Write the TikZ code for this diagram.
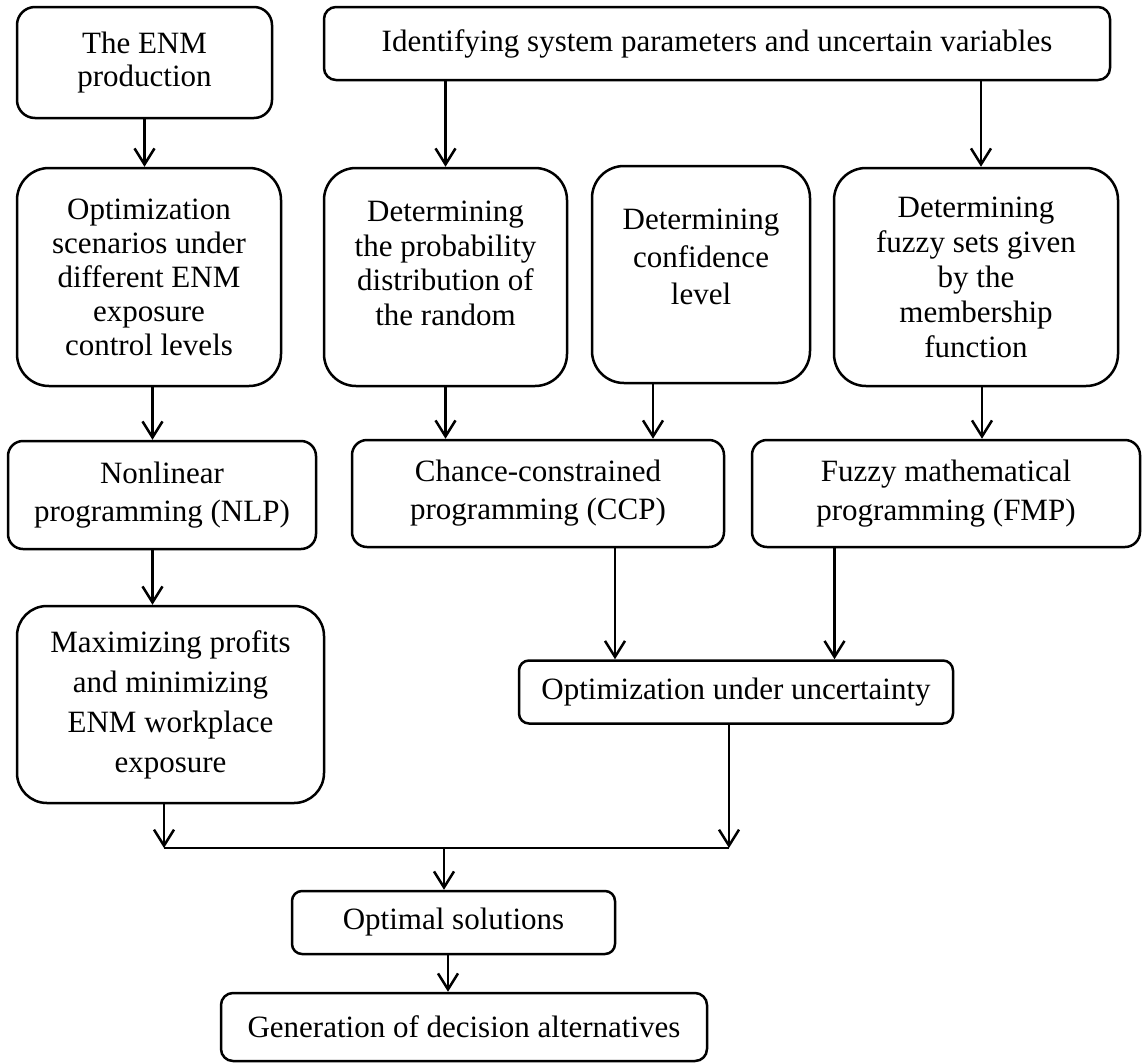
\documentclass[tikz,border=0pt]{standalone}
\usepackage{fontspec}
\setmainfont{Liberation Serif}
\usetikzlibrary{arrows.meta}
\begin{document}
\begin{tikzpicture}[x=1pt,y=-1pt,
  box/.style={draw=black, line width=2.5pt, align=center, inner sep=0pt, text=black, font=\fontsize{31}{36}\selectfont},
  ls/.style={font=\fontsize{31}{#1}\selectfont},
  arr/.style={draw=black, line width=2.5pt, -{Straight Barb[length=16pt,width=20pt]}},
  ln/.style={draw=black, line width=2.5pt},
]
\useasboundingbox (0,0) rectangle (1143,1063);

\node[box, ls=33, rounded corners=18pt, minimum width=255pt, minimum height=111pt] (enm) at (144.5,62.5) {The ENM\\production};
\node[box, rounded corners=12pt, minimum width=786pt, minimum height=73pt] (ident) at (717,43.5) {Identifying system parameters and uncertain variables};

\node[box, ls=34, rounded corners=32pt, minimum width=264pt, minimum height=218pt] (optsc) at (149,277) {Optimization\\scenarios under\\different ENM\\exposure\\control levels};
\node[box, ls=34.5, rounded corners=32pt, minimum width=243pt, minimum height=218pt] (prob) at (445.5,277) {Determining\\the probability\\distribution of\\the random\rule[-28pt]{0pt}{28pt}};
\node[box, ls=37.5, rounded corners=32pt, minimum width=218pt, minimum height=217pt] (conf) at (701,274.5) {Determining\\confidence\\level\rule[-35pt]{0pt}{35pt}};
\node[box, ls=35, rounded corners=32pt, minimum width=284pt, minimum height=218pt] (fuzzy) at (976,277) {Determining\\fuzzy sets given\\by the\\membership\\function};

\node[box, ls=38, rounded corners=15pt, minimum width=308pt, minimum height=108pt] (nlp) at (162,495) {Nonlinear\\programming (NLP)};
\node[box, ls=38, rounded corners=15pt, minimum width=372pt, minimum height=107pt] (ccp) at (538,493.5) {Chance-constrained\\programming (CCP)};
\node[box, ls=39, rounded corners=15pt, minimum width=388pt, minimum height=107pt] (fmp) at (946,493.5) {Fuzzy mathematical\\programming (FMP)};

\node[box, ls=40, rounded corners=30pt, minimum width=307pt, minimum height=197pt] (max) at (170.5,704.5) {Maximizing profits\\and minimizing\\ENM workplace\\exposure};
\node[box, rounded corners=10pt, minimum width=434pt, minimum height=63pt] (ou) at (736,692) {Optimization under uncertainty};

\node[box, rounded corners=10pt, minimum width=323pt, minimum height=63pt] (opt) at (453.5,922.5) {Optimal solutions};
\node[box, rounded corners=12pt, minimum width=486pt, minimum height=68pt] (gen) at (464,1027) {Generation of decision alternatives};

% connectors
\draw[arr] (enm.south) -- (enm.south |- optsc.north);
\draw[arr] (prob.north |- ident.south) -- (prob.north);
\coordinate (x3) at ([xshift=5pt]fuzzy.north);
\draw[arr] (x3 |- ident.south) -- (x3);

\coordinate (x4) at ([xshift=3.5pt]optsc.south);
\draw[arr] (x4) -- (x4 |- nlp.north);
\draw[arr] (prob.south) -- (prob.south |- ccp.north);
\coordinate (x6) at ([xshift=-48pt]conf.south);
\draw[arr] (x6) -- (x6 |- ccp.north);
\coordinate (x7) at ([xshift=6pt]fuzzy.south);
\draw[arr] (x7) -- (x7 |- fmp.north);

\draw[arr] (x4 |- nlp.south) -- (x4 |- max.north);
\coordinate (x8) at ([xshift=77pt]ccp.south);
\draw[arr] (x8) -- (x8 |- ou.north);
\coordinate (x9) at ([xshift=-111.5pt]fmp.south);
\draw[arr] (x9) -- (x9 |- ou.north);

\coordinate (jl) at (164,848);
\coordinate (jr) at (729,848);
\coordinate (jm) at (444,848);
\draw[arr] (max.south -| jl) -- (jl);
\draw[arr] (ou.south -| jr) -- (jr);
\draw[ln] (jl) -- (jr);
\draw[arr] (jm) -- (jm |- opt.north);
\coordinate (x13) at ([xshift=-5.5pt]opt.south);
\draw[arr] (x13) -- (x13 |- gen.north);
\end{tikzpicture}
\end{document}
